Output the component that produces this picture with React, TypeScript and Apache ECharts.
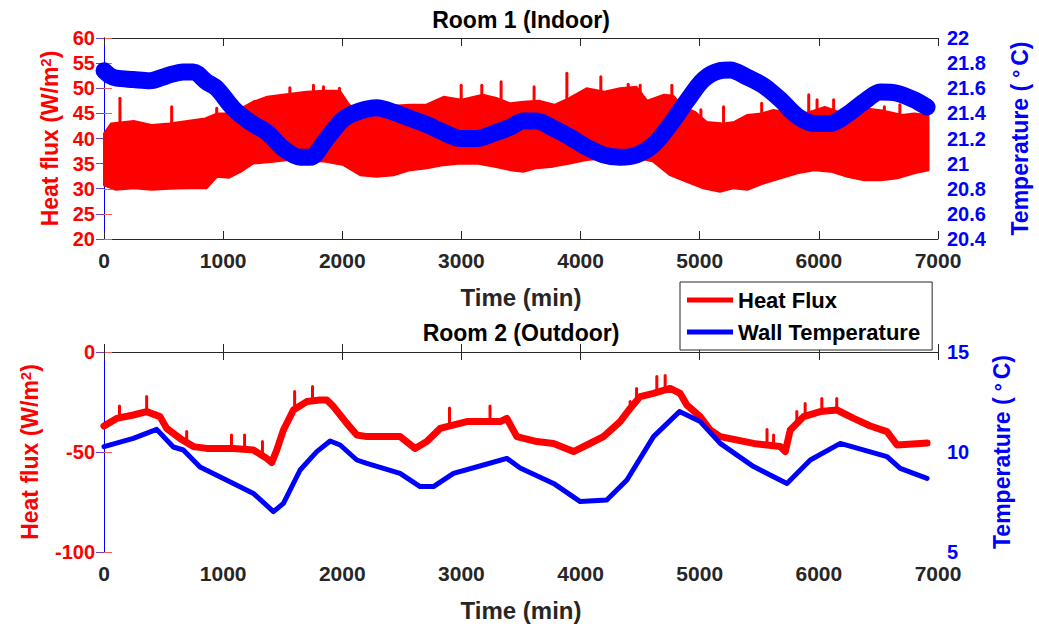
import React, { useEffect, useRef } from "react";
import * as echarts from "echarts";

// ---------- DATA ----------
const xTicks = { min: 0, max: 7000, interval: 1000 };

// Room 1 (Indoor) heat flux: envelope of the dense oscillation [time (min), W/m2]
const r1FluxUpper: number[][] = [
  [0, 41], [60, 43], [250, 43.5], [400, 42.7], [550, 43], [700, 43.5], [850, 44], [950, 45],
  [1050, 45], [1150, 46], [1250, 47.3], [1370, 48.3], [1500, 48.7], [1700, 49.3], [1850, 49.5],
  [1980, 49.5], [2050, 47], [2150, 44.5], [2300, 44.5], [2430, 46.5], [2570, 46.7], [2700, 46.7],
  [2850, 48.3], [3000, 47.7], [3180, 48.7], [3300, 48], [3410, 47], [3520, 47.3], [3650, 47.5],
  [3780, 46.7], [3900, 48], [4050, 50], [4200, 49.3], [4330, 50], [4470, 50.3], [4560, 47.5],
  [4700, 48.7], [4780, 48.5], [4850, 46.5], [4960, 45.3], [5060, 43.3], [5200, 43], [5290, 43.3],
  [5400, 44.7], [5520, 45], [5620, 45.7], [5820, 44.7], [5950, 45.5], [6050, 46.3], [6200, 45],
  [6380, 46], [6550, 45.5], [6700, 44.7], [6800, 45], [6920, 44.7],
];
const r1FluxLower: number[][] = [
  [0, 30.7], [100, 29.8], [250, 30.1], [400, 29.8], [550, 30], [700, 30.1], [860, 30.1], [950, 32.4],
  [1050, 32.2], [1150, 33.4], [1250, 35], [1400, 35.3], [1550, 35.7], [1700, 35.5], [1850, 35.4],
  [2010, 34.7], [2150, 32.7], [2290, 32.4], [2430, 32.7], [2570, 33.7], [2710, 34.1], [2850, 34.7],
  [2990, 35], [3130, 35], [3270, 34.4], [3410, 33.7], [3520, 33.4], [3630, 34.1], [3770, 34.4],
  [3910, 35], [4050, 35.7], [4200, 36], [4350, 36], [4500, 36], [4610, 35.4], [4750, 32.7],
  [4890, 31.4], [5030, 30.1], [5170, 29.4], [5280, 30.1], [5400, 29.8], [5540, 31.1], [5680, 32.1],
  [5820, 33.1], [5960, 33.7], [6100, 33.4], [6240, 32.4], [6380, 31.7], [6520, 31.7], [6660, 32.1],
  [6800, 33.1], [6920, 33.7],
];
// spikes: [time, base, top]
const r1FluxSpikes: number[][] = [
  [134, 40, 48], [568, 40, 46.3], [946, 40, 46], [1260, 40, 47.3], [1560, 40, 50.1], [1758, 40, 50.6],
  [1842, 40, 50.3], [1976, 40, 50], [2998, 40, 50.6], [3171, 40, 50.6], [3333, 40, 51.3],
  [3610, 40, 50.3], [3885, 40, 53], [4170, 40, 52.3], [4400, 40, 50.8], [4500, 40, 50.6],
  [4766, 40, 50.6], [5010, 40, 45.7], [5200, 40, 46.3], [5520, 40, 47], [5915, 40, 48.7],
  [5985, 40, 47.7], [6124, 40, 47.7], [6550, 40, 46.3], [6680, 40, 46.7],
];
// Room 1 wall temperature [time, °C]
const r1Temp: number[][] = [
  [0, 21.74], [50, 21.7], [106, 21.68], [245, 21.67], [386, 21.66], [529, 21.7], [664, 21.73],
  [750, 21.73], [862, 21.65], [946, 21.6], [1085, 21.44], [1226, 21.33], [1366, 21.25], [1505, 21.12],
  [1646, 21.05], [1730, 21.05], [1870, 21.2], [2010, 21.355], [2150, 21.42], [2290, 21.445],
  [2430, 21.41], [2570, 21.36], [2709, 21.31], [2847, 21.25], [2990, 21.2], [3129, 21.2],
  [3268, 21.24], [3410, 21.29], [3520, 21.34], [3633, 21.34], [3773, 21.28], [3913, 21.21],
  [4053, 21.13], [4192, 21.07], [4332, 21.05], [4472, 21.07], [4612, 21.15], [4752, 21.31],
  [4893, 21.5], [5032, 21.67], [5172, 21.74], [5256, 21.745], [5396, 21.69], [5536, 21.62],
  [5676, 21.51], [5816, 21.38], [5956, 21.32], [6096, 21.32], [6236, 21.39], [6376, 21.49],
  [6516, 21.57], [6656, 21.56], [6795, 21.51], [6908, 21.45],
];

// Room 2 (Outdoor) heat flux [time, W/m2]
const r2Flux: number[][] = [
  [0, -37], [106, -33.2], [246, -31.5], [358, -29.8], [470, -32.3], [526, -38.2], [638, -43.2],
  [750, -47.3], [862, -48.2], [1086, -48.2], [1254, -49], [1366, -53.2], [1408, -55.3], [1450, -49],
  [1506, -39], [1590, -29], [1702, -24.8], [1814, -24], [1870, -24], [1926, -27.3], [2038, -35.7],
  [2122, -41.5], [2206, -42.3], [2485, -42.3], [2611, -48.2], [2709, -44.8], [2821, -38.2],
  [3045, -34.8], [3325, -34.8], [3381, -33.2], [3465, -42.3], [3633, -44.8], [3773, -45.7],
  [3941, -49.8], [4053, -46.5], [4192, -42.3], [4332, -34.8], [4416, -28.2], [4500, -22.3],
  [4612, -20.7], [4752, -18.2], [4836, -20.7], [4892, -26.5], [5004, -32.3], [5088, -39],
  [5172, -42.3], [5452, -45.7], [5676, -47.3], [5718, -49.8], [5760, -39], [5872, -32.3],
  [6012, -29.8], [6152, -29], [6292, -33.2], [6432, -37], [6572, -39.8], [6656, -46.5],
  [6851, -45.7], [6908, -45.5],
];
const r2FluxSpikes: number[][] = [
  [130, -33, -27], [358, -30, -22.3], [694, -45, -39.8], [1070, -48, -41.5], [1180, -48, -41.5],
  [1330, -50, -44.8], [1600, -29, -19.8], [1750, -24, -17.3], [2900, -36, -28], [3240, -35, -27],
  [4416, -28, -24.8], [4470, -24, -18.2], [4640, -20, -12.3], [4710, -19, -11.7], [5565, -45, -38.8],
  [5620, -46, -41.5], [5815, -36, -29.8], [5885, -31, -25.7], [6025, -29, -23.2], [6150, -29, -23.2],
];
// Room 2 wall temperature [time, °C]
const r2Temp: number[][] = [
  [0, 10.27], [246, 10.68], [442, 11.13], [582, 10.25], [666, 10.1], [806, 9.25], [1086, 8.43],
  [1254, 7.93], [1422, 7.02], [1506, 7.43], [1646, 9.1], [1786, 10.02], [1898, 10.55], [1982, 10.35],
  [2122, 9.6], [2206, 9.43], [2485, 8.93], [2653, 8.27], [2765, 8.27], [2933, 8.93], [3185, 9.35],
  [3381, 9.68], [3493, 9.2], [3773, 8.43], [3997, 7.52], [4220, 7.6], [4389, 8.6], [4612, 10.77],
  [4830, 12.02], [5004, 11.52], [5172, 10.43], [5452, 9.27], [5732, 8.43], [5928, 9.6],
  [6180, 10.43], [6572, 9.77], [6683, 9.18], [6908, 8.68],
];

const r1FluxAxis = { min: 20, max: 60, interval: 5 };
const r1TempAxis = { min: 20.4, max: 22, interval: 0.2 };
const r2FluxAxis = { min: -100, max: 0, interval: 50 };
const r2TempAxis = { min: 5, max: 15, interval: 5 };

const titles = ["Room 1 (Indoor)", "Room 2 (Outdoor)"];
const legendNames = ["Heat Flux", "Wall Temperature"];

// ---------- STYLE ----------
const RED = "#FF0000";
const BLUE = "#0000FF";
const DARK = "#262626";
const FONT = "Liberation Sans, Arial, sans-serif";

const plain = (v: number) => String(Math.round(v * 1000) / 1000);

function makeX(gridIndex: number) {
  return [
    {
      type: "value", gridIndex, position: "bottom", ...xTicks,
      name: "Time (min)", nameLocation: "middle", nameGap: 46,
      nameTextStyle: { fontFamily: FONT, fontWeight: "bold", fontSize: 24, color: DARK },
      axisLine: { show: true, lineStyle: { color: DARK, width: 1 } },
      axisTick: { show: true, inside: true, length: 8, lineStyle: { color: DARK } },
      axisLabel: { fontFamily: FONT, fontWeight: "bold", fontSize: 21, color: DARK, margin: 11, formatter: plain },
      splitLine: { show: false },
    },
    {
      type: "value", gridIndex, position: "top", ...xTicks,
      axisLine: { show: true, lineStyle: { color: DARK, width: 1 } },
      axisTick: { show: true, inside: true, length: 8, lineStyle: { color: DARK } },
      axisLabel: { show: false },
      splitLine: { show: false },
    },
  ];
}

function makeY(gridIndex: number, left: any, right: any, leftGap: number, rightGap: number) {
  return [
    {
      type: "value", gridIndex, position: "left", ...left,
      name: "Heat flux (W/m{sup|2})", nameLocation: "middle", nameRotate: 90, nameGap: leftGap,
      nameTextStyle: {
        fontFamily: FONT, fontWeight: "bold", fontSize: 23, color: RED,
        rich: { sup: { fontFamily: FONT, fontWeight: "bold", fontSize: 15, color: RED, verticalAlign: "top", padding: [0, 0, 9, 0] } },
      },
      axisLine: { show: true, lineStyle: { color: RED, width: 1 } },
      axisTick: { show: true, inside: true, length: 8, lineStyle: { color: "#FF5a5a" } },
      axisLabel: { fontFamily: FONT, fontWeight: "bold", fontSize: 20, color: RED, margin: 9, formatter: plain },
      splitLine: { show: false },
    },
    {
      type: "value", gridIndex, position: "right", ...right,
      name: "Temperature ({deg|°}C)", nameLocation: "middle", nameRotate: 90, nameGap: rightGap,
      nameTextStyle: {
        fontFamily: FONT, fontWeight: "bold", fontSize: 23, color: BLUE,
        rich: { deg: { fontFamily: FONT, fontWeight: "bold", fontSize: 20, color: BLUE, padding: [0, 4, 0, 6] } },
      },
      axisLine: { show: true, lineStyle: { color: BLUE, width: 1 } },
      axisTick: { show: true, inside: true, length: 8, lineStyle: { color: "#7040C0" } },
      axisLabel: { fontFamily: FONT, fontWeight: "bold", fontSize: 20, color: BLUE, margin: 9, formatter: plain },
      splitLine: { show: false },
    },
  ];
}

function bandSeries(name: string, xi: number, yi: number, upper: number[][], lower: number[][]) {
  return {
    type: "custom", name, xAxisIndex: xi, yAxisIndex: yi, z: 2,
    data: [[upper[0][0], upper[0][1]]],
    renderItem: (_p: any, api: any) => {
      const pts = upper.map((p) => api.coord(p)).concat(lower.slice().reverse().map((p) => api.coord(p)));
      return {
        type: "polygon",
        shape: { points: pts },
        style: { fill: RED, stroke: RED, lineWidth: 2, lineJoin: "round" },
      };
    },
  };
}

function spikeSeries(name: string, xi: number, yi: number, spikes: number[][], width: number) {
  return {
    type: "custom", name, xAxisIndex: xi, yAxisIndex: yi, z: 2,
    data: spikes,
    encode: { x: 0, y: [1, 2] },
    renderItem: (_p: any, api: any) => {
      const t = api.value(0);
      const a = api.coord([t, api.value(1)]);
      const b = api.coord([t, api.value(2)]);
      return {
        type: "line",
        shape: { x1: a[0], y1: a[1], x2: b[0], y2: b[1] },
        style: { stroke: RED, lineWidth: width, lineCap: "round" },
      };
    },
  };
}

export default function App() {
  const ref = useRef<HTMLDivElement>(null);
  useEffect(() => {
    if (!ref.current) return;
    const chart = echarts.init(ref.current, undefined, { renderer: "svg" });
    const option: any = {
      animation: false,
      backgroundColor: "#FFFFFF",
      grid: [
        { left: 104, top: 38, right: 101, height: 201 },
        { left: 104, top: 352, right: 101, height: 200 },
      ],
      xAxis: [...makeX(0), ...makeX(1)],
      yAxis: [
        ...makeY(0, r1FluxAxis, r1TempAxis, 38, 70),
        ...makeY(1, r2FluxAxis, r2TempAxis, 62, 52),
      ],
      legend: {
        data: legendNames.map((n) => ({ name: n, icon: "rect" })),
        orient: "vertical", left: 680, top: 282,
        itemWidth: 46, itemHeight: 5, itemGap: 10,
        padding: [7, 12, 7, 7],
        backgroundColor: "#FFFFFF", borderColor: DARK, borderWidth: 1,
        textStyle: { fontFamily: FONT, fontWeight: "bold", fontSize: 22, color: "#000000", lineHeight: 22 },
        selectedMode: false,
      },
      graphic: titles.map((t, i) => ({
        type: "text", x: 521, y: i === 0 ? 20 : 333,
        style: {
          text: t, fill: "#000000", font: `bold 23px ${FONT}`,
          textAlign: "center", textVerticalAlign: "middle",
        },
      })),
      series: [
        bandSeries("Heat Flux (Room 1)", 0, 0, r1FluxUpper, r1FluxLower),
        spikeSeries("Heat Flux spikes (Room 1)", 0, 0, r1FluxSpikes, 3),
        {
          type: "line", name: "Wall Temperature (Room 1)", xAxisIndex: 0, yAxisIndex: 1,
          data: r1Temp, showSymbol: false, smooth: 0.3, z: 3,
          lineStyle: { color: BLUE, width: 17, cap: "round", join: "round" },
          itemStyle: { color: BLUE },
        },
        {
          type: "line", name: legendNames[0], xAxisIndex: 2, yAxisIndex: 2,
          data: r2Flux, showSymbol: false, z: 3,
          lineStyle: { color: RED, width: 7, cap: "round", join: "round" },
          itemStyle: { color: RED },
        },
        spikeSeries("Heat Flux spikes (Room 2)", 2, 2, r2FluxSpikes, 3),
        {
          type: "line", name: legendNames[1], xAxisIndex: 2, yAxisIndex: 3,
          data: r2Temp, showSymbol: false, z: 4,
          lineStyle: { color: BLUE, width: 5, cap: "round", join: "round" },
          itemStyle: { color: BLUE },
        },
      ],
    };
    chart.setOption(option);
    return () => chart.dispose();
  }, []);
  return (
    <div
      ref={ref}
      style={{ position: "fixed", left: 0, top: 0, width: 1039, height: 624, background: "#fff" }}
    />
  );
}
